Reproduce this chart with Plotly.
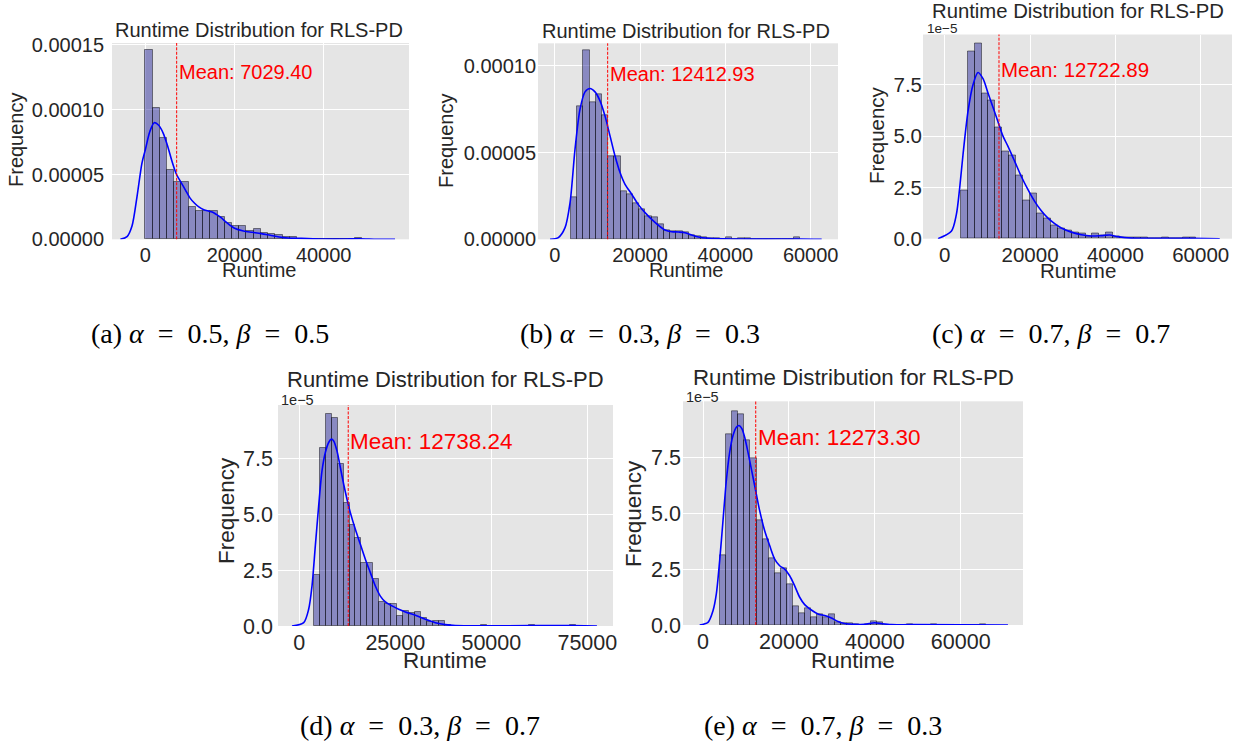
import plotly.graph_objects as go

W, H = 1247, 747

# ------------------------------------------------------------------ data
a_bin_start, a_bin_width = 0, 1620
a_heights = [1.46e-4, 1.01e-4, 7.8e-5, 5.35e-5, 4.45e-5, 4.45e-5, 2.5e-5, 2.2e-5, 2.2e-5, 2.2e-5,
             1.75e-5, 1.25e-5, 1.0e-5, 1.0e-5, 6.5e-6, 8.0e-6, 5.0e-6, 4.0e-6, 3.0e-6, 2.0e-6,
             1.5e-6, 6e-7, 3e-7, 3e-7, 0, 0, 0, 0, 0, 1.2e-6]
a_kde_x = [-5600, -4100, -3000, -1860, -740, 0, 1000, 2000, 3000, 4000, 5000, 6000, 7000, 8000,
           9000, 10000, 11000, 12000, 13000, 14000, 15000, 16000, 17000, 18000, 19000, 20000,
           22000, 24000, 26000, 28000, 30000, 32000, 35000, 40000, 45000, 48000, 52000, 56000]
a_kde_y = [0, 2e-6, 1.0e-5, 3.3e-5, 5.9e-5, 6.9e-5, 8.3e-5, 9.0e-5, 8.8e-5, 8.2e-5, 7.2e-5, 6.0e-5,
           5.0e-5, 4.4e-5, 3.8e-5, 3.2e-5, 2.8e-5, 2.5e-5, 2.3e-5, 2.2e-5, 2.1e-5, 1.9e-5, 1.67e-5,
           1.36e-5, 1.08e-5, 8.5e-6, 6.4e-6, 5.4e-6, 4.4e-6, 3.1e-6, 1.8e-6, 1.0e-6, 7e-7, 2e-7,
           2e-7, 4e-7, 0, 0]
a_mean = 7029.40

b_bin_start, b_bin_width = 3830, 1453
b_heights = [2.44e-5, 7.65e-5, 1.087e-4, 7.92e-5, 8.37e-5, 7.15e-5, 4.8e-5, 4.8e-5, 2.75e-5, 2.6e-5,
             2.1e-5, 1.75e-5, 1.35e-5, 1.25e-5, 8.7e-6, 5.4e-6, 4.8e-6, 4.8e-6, 3.8e-6, 2.3e-6,
             1.7e-6, 1.2e-6, 8e-7, 6e-7, 0, 1.0e-6, 0, 3e-7, 3e-7, 0, 0, 0, 0, 0, 0, 0, 1.3e-6]
b_kde_x = [-1094, 860, 2422, 3594, 4766, 5938, 7110, 8280, 9453, 10625, 11797, 12969, 14140, 15312,
           16484, 18047, 19609, 21170, 22735, 24300, 25860, 27420, 29000, 30550, 32110, 33670,
           36020, 41500, 49300, 57100, 62570]
b_kde_y = [0, 1e-6, 6.7e-6, 2.1e-5, 5.2e-5, 7.5e-5, 8.5e-5, 8.69e-5, 8.5e-5, 7.98e-5, 7.1e-5, 5.96e-5,
           4.8e-5, 3.85e-5, 3.17e-5, 2.6e-5, 2.0e-5, 1.54e-5, 1.15e-5, 8.1e-6, 5.4e-6, 4.4e-6, 4.2e-6,
           3.8e-6, 2.5e-6, 1.3e-6, 6e-7, 2e-7, 1e-7, 2e-7, 0]
b_mean = 12412.93

c_bin_start, c_bin_width = 3750, 1625
c_heights = [2.34e-5, 9.12e-5, 9.49e-5, 7.09e-5, 6.72e-5, 5.44e-5, 4.25e-5, 4.07e-5, 3.08e-5, 1.85e-5,
             2.22e-5, 1.25e-5, 9.7e-6, 6.3e-6, 5.2e-6, 4.1e-6, 3.2e-6, 2.3e-6, 1.1e-6, 2.4e-6,
             1.5e-6, 2.9e-6, 1.2e-6, 6e-7, 5e-7, 5e-7, 5e-7, 0, 0, 5e-7, 0, 0, 6e-7, 6e-7]
c_kde_x = [-1570, 1555, 2727, 3508, 4290, 5460, 6633, 7800, 8977, 10150, 11320, 12490, 13660, 14830,
           16400, 17960, 19520, 21080, 22640, 24200, 25770, 27330, 29670, 32010, 34360, 36700,
           38650, 40600, 43730, 50000, 58000, 64450]
c_kde_y = [0, 3.6e-6, 1.17e-5, 2.47e-5, 4.09e-5, 6.2e-5, 7.5e-5, 8.1e-5, 7.8e-5, 7.1e-5, 6.4e-5,
           5.7e-5, 5.0e-5, 4.5e-5, 3.77e-5, 3.03e-5, 2.39e-5, 1.82e-5, 1.36e-5, 1.0e-5, 7.3e-6,
           5.2e-6, 3.2e-6, 1.9e-6, 1.3e-6, 1.5e-6, 1.8e-6, 1.0e-6, 3e-7, 2e-7, 2e-7, 0]
c_mean = 12722.89

d_bin_start, d_bin_width = 3750, 1554
d_heights = [2.29e-5, 7.96e-5, 9.49e-5, 9.34e-5, 7.25e-5, 5.5e-5, 4.53e-5, 3.96e-5, 2.81e-5, 2.81e-5,
             2.09e-5, 1.09e-5, 9.7e-6, 9.7e-6, 4.5e-6, 6.5e-6, 6.0e-6, 6.3e-6, 3.5e-6, 1.6e-6,
             2.4e-6, 2.4e-6, 3e-7, 0, 0, 0, 0, 0, 3e-7, 0, 0, 0, 0, 0, 0, 0, 4e-7, 0, 0, 0,
             0, 0, 0, 4e-7]
d_kde_x = [-1900, 1136, 2438, 3307, 4175, 5043, 5911, 6780, 7648, 8342, 8950, 9818, 10686, 11554,
           12422, 13290, 14592, 15894, 17196, 18498, 19800, 21102, 22404, 24140, 25877, 27613,
           30217, 32821, 35425, 38030, 40634, 44974, 60600, 71000, 77514]
d_kde_y = [0, 1.5e-6, 7.5e-6, 1.79e-5, 3.59e-5, 5.38e-5, 6.95e-5, 7.77e-5, 8.22e-5, 8.37e-5, 8.29e-5,
           7.84e-5, 7.1e-5, 6.35e-5, 5.68e-5, 5.08e-5, 4.33e-5, 3.66e-5, 2.99e-5, 2.39e-5, 1.79e-5,
           1.34e-5, 1.08e-5, 9.0e-6, 7.5e-6, 6.3e-6, 4.8e-6, 3.0e-6, 1.5e-6, 6e-7, 1.5e-7, 1e-7,
           1.5e-7, 1.5e-7, 0]
d_mean = 12738.24

e_bin_start, e_bin_width = 4030, 1404
e_heights = [3.13e-5, 8.54e-5, 9.56e-5, 9.41e-5, 8.25e-5, 7.46e-5, 4.7e-5, 3.85e-5, 2.98e-5, 2.31e-5,
             2.55e-5, 1.83e-5, 8.3e-6, 5.4e-6, 7.5e-6, 3.4e-6, 4.6e-6, 3.4e-6, 4.9e-6, 1.2e-6,
             7e-7, 6e-7, 4e-7, 0, 4e-7, 1.6e-6, 1.0e-6, 0, 0, 0, 0, 4e-7, 0, 0, 0, 4e-7,
             0, 0, 0, 0, 0, 0, 0, 4e-7]
e_kde_x = [-776, 1164, 2328, 3104, 3880, 4657, 5433, 6209, 6985, 7761, 8382, 9080, 9701, 10477,
           11253, 12185, 13193, 14357, 15521, 16685, 17850, 19014, 20178, 21342, 22506, 23670,
           25222, 26774, 28327, 29879, 31431, 32983, 35311, 37640, 39968, 41520, 43848, 48500, 71000]
e_kde_y = [0, 1.2e-6, 6.4e-6, 1.39e-5, 2.88e-5, 4.67e-5, 6.46e-5, 7.72e-5, 8.47e-5, 8.84e-5, 8.92e-5,
           8.77e-5, 8.39e-5, 7.72e-5, 6.98e-5, 6.08e-5, 5.11e-5, 4.21e-5, 3.55e-5, 2.95e-5, 2.65e-5,
           2.5e-5, 2.2e-5, 1.75e-5, 1.24e-5, 9.1e-6, 6.7e-6, 4.9e-6, 4.2e-6, 3.1e-6, 1.6e-6, 7e-7,
           3e-7, 3e-7, 1.0e-6, 6e-7, 1.5e-7, 1.5e-7, 0]
e_mean = 12273.30

title_text = "Runtime Distribution for RLS-PD"
x_label = "Runtime"
y_label = "Frequency"

a_xticks = [0, 20000, 40000]
b_xticks = [0, 20000, 40000, 60000]
c_xticks = [0, 20000, 40000, 60000]
d_xticks = [0, 25000, 50000, 75000]
e_xticks = [0, 20000, 40000, 60000]
ab_yticks = [0, 5e-5, 1e-4, 1.5e-4]
ab_yticklabels = ["0.00000", "0.00005", "0.00010", "0.00015"]
cde_yticks = [0, 2.5e-5, 5e-5, 7.5e-5]
cde_yticklabels = ["0.0", "2.5", "5.0", "7.5"]

captions = ["(a)", "(b)", "(c)", "(d)", "(e)"]
alphas = ["0.5", "0.3", "0.7", "0.3", "0.7"]
betas = ["0.5", "0.3", "0.7", "0.7", "0.3"]

# ------------------------------------------------------------------ layout geometry (pixels)
SANS = "Liberation Sans, Arial, sans-serif"
SERIF = "Liberation Serif, Times New Roman, serif"
TXT = "#262626"

panels = [
    dict(key="a", box=(112, 43, 409, 239.3), xr=(-7470, 59130), yr=(0, 1.515e-4),
         xticks=a_xticks, yticks=ab_yticks, ytl=ab_yticklabels, fs=20, lfs=20, expo=None,
         xso=2, yso=7,
         title=(259, 30.5, 20), mean_y=72.5, xl=(258.5, 270), yl=(16, 140),
         cap=(210, 333)),
    dict(key="b", box=(538, 43.3, 838, 239.3), xr=(-3914, 66400), yr=(0, 1.13e-4),
         xticks=b_xticks, yticks=ab_yticks, ytl=ab_yticklabels, fs=20, lfs=20, expo=None,
         xso=2, yso=1,
         title=(686, 31.5, 20), mean_y=74, xl=(686, 270), yl=(446, 141),
         cap=(640, 333)),
    dict(key="c", box=(923, 34.5, 1232, 238.7), xr=(-5085, 67330), yr=(0, 9.95e-5),
         xticks=c_xticks, yticks=cde_yticks, ytl=cde_yticklabels, fs=20.5, lfs=20.5,
         expo=(925, 28, 13.5), xso=2, yso=0,
         title=(1078, 11.5, 20.3), mean_y=69, xl=(1078, 270.5), yl=(876, 135),
         cap=(1051, 333)),
    dict(key="d", box=(278, 405, 613, 626), xr=(-5547, 81690), yr=(0, 9.9e-5),
         xticks=d_xticks, yticks=cde_yticks, ytl=cde_yticklabels, fs=21.5, lfs=22.5,
         expo=(279, 399.5, 14.5), xso=1, yso=4,
         title=(445.5, 379, 22), mean_y=441, xl=(445.5, 660.5), yl=(227, 511),
         cap=(420, 725)),
    dict(key="e", box=(683, 401.3, 1023, 625), xr=(-4657, 74500), yr=(0, 1.0e-4),
         xticks=e_xticks, yticks=cde_yticks, ytl=cde_yticklabels, fs=21.5, lfs=22.5,
         expo=(684, 396.5, 14.5), xso=1, yso=1,
         title=(853, 377.5, 22.3), mean_y=437.5, xl=(853, 660), yl=(633, 514),
         cap=(823, 725)),
]

data = {
    "a": (a_bin_start, a_bin_width, a_heights, a_kde_x, a_kde_y, a_mean),
    "b": (b_bin_start, b_bin_width, b_heights, b_kde_x, b_kde_y, b_mean),
    "c": (c_bin_start, c_bin_width, c_heights, c_kde_x, c_kde_y, c_mean),
    "d": (d_bin_start, d_bin_width, d_heights, d_kde_x, d_kde_y, d_mean),
    "e": (e_bin_start, e_bin_width, e_heights, e_kde_x, e_kde_y, e_mean),
}


def px(x):
    return x / W


def py(y):
    return 1 - y / H


fig = go.Figure()
annotations = []
shapes = []
layout_axes = {}

for i, p in enumerate(panels):
    n = i + 1
    xa = "x" if n == 1 else f"x{n}"
    ya = "y" if n == 1 else f"y{n}"
    xname = "xaxis" if n == 1 else f"xaxis{n}"
    yname = "yaxis" if n == 1 else f"yaxis{n}"
    start, width, heights, kx, ky, mean = data[p["key"]]
    centers = [start + width * (k + 0.5) for k in range(len(heights))]

    fig.add_trace(go.Bar(
        x=centers, y=heights, width=[width] * len(heights),
        marker=dict(color="rgba(0,0,139,0.4)", line=dict(color="rgba(0,0,0,0.45)", width=1)),
        xaxis=xa, yaxis=ya, showlegend=False, hoverinfo="skip"))
    fig.add_trace(go.Scatter(
        x=kx, y=ky, mode="lines",
        line=dict(color="#0000ff", width=1.6, shape="spline", smoothing=0.8),
        xaxis=xa, yaxis=ya, showlegend=False, hoverinfo="skip"))

    x0, y0, x1, y1 = p["box"]
    layout_axes[xname] = dict(
        domain=[px(x0), px(x1)], range=list(p["xr"]), anchor=ya, automargin=False,
        tickvals=p["xticks"], ticktext=[str(v) for v in p["xticks"]],
        showgrid=True, gridcolor="white", gridwidth=1.3, zeroline=False,
        showline=False, ticks="", ticklabelstandoff=p["xso"],
        tickfont=dict(family=SANS, size=p["fs"], color=TXT))
    layout_axes[yname] = dict(
        domain=[py(y1), py(y0)], range=list(p["yr"]), anchor=xa, automargin=False,
        tickvals=p["yticks"], ticktext=p["ytl"],
        showgrid=True, gridcolor="white", gridwidth=1.3, zeroline=False,
        showline=False, ticks="", ticklabelstandoff=p["yso"],
        tickfont=dict(family=SANS, size=p["fs"], color=TXT))

    shapes.append(dict(type="line", xref=xa, yref=f"{ya} domain", x0=mean, x1=mean, y0=0, y1=1,
                       line=dict(color="red", width=1, dash="3px,1.5px")))

    annotations.append(dict(text=f"Mean: {mean:.2f}", xref=xa, yref="paper", x=mean,
                            y=py(p["mean_y"]), xanchor="left", yanchor="middle", showarrow=False,
                            font=dict(family=SANS, size=p["lfs"], color="red")))
    tx, ty, tfs = p["title"]
    annotations.append(dict(text=title_text, xref="paper", yref="paper", x=px(tx), y=py(ty),
                            xanchor="center", yanchor="middle", showarrow=False,
                            font=dict(family=SANS, size=tfs, color=TXT)))
    lx, ly = p["xl"]
    annotations.append(dict(text=x_label, xref="paper", yref="paper", x=px(lx), y=py(ly),
                            xanchor="center", yanchor="middle", showarrow=False,
                            font=dict(family=SANS, size=p["lfs"], color=TXT)))
    vx, vy = p["yl"]
    annotations.append(dict(text=y_label, xref="paper", yref="paper", x=px(vx), y=py(vy),
                            xanchor="center", yanchor="middle", showarrow=False, textangle=-90,
                            font=dict(family=SANS, size=p["lfs"], color=TXT)))
    if p["expo"]:
        ex, ey, efs = p["expo"]
        annotations.append(dict(text="1e\u22125", xref="paper", yref="paper", x=px(ex), y=py(ey),
                                xanchor="left", yanchor="middle", showarrow=False,
                                font=dict(family=SANS, size=efs, color=TXT)))
    cx, cy = p["cap"]
    en = "\u2002"
    nb = "\u00a0"
    cap = (f"{captions[i]}{nb}<i>\u03b1</i>{en}={en}{alphas[i]},{nb}"
           f"<i>\u03b2</i>{en}={en}{betas[i]}")
    annotations.append(dict(text=cap, xref="paper", yref="paper", x=px(cx), y=py(cy),
                            xanchor="center", yanchor="middle", showarrow=False,
                            font=dict(family=SERIF, size=28, color="black")))

fig.update_layout(
    width=W, height=H, margin=dict(l=0, r=0, t=0, b=0, pad=0, autoexpand=False),
    paper_bgcolor="white", plot_bgcolor="#E5E5E5",
    barmode="overlay", bargap=0,
    annotations=annotations, shapes=shapes, showlegend=False,
    **layout_axes)

fig.write_html("out.html", config={"displayModeBar": False},
               post_script="document.body.style.margin='0px';")
